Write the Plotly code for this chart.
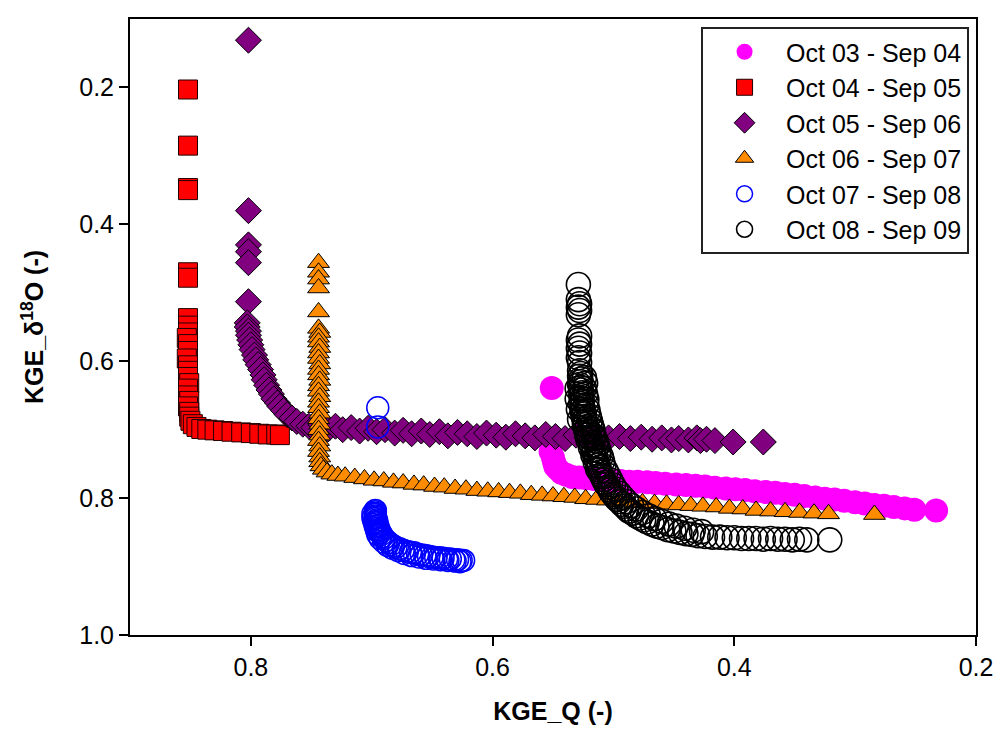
import plotly.graph_objects as go

# KGE_Q (x) and KGE_delta18O (y) pairs for each hydrological year
oct03_sep04 = [
    (0.551, 0.639), (0.552, 0.732), (0.550, 0.741), (0.549, 0.748), (0.548, 0.754),
    (0.546, 0.758), (0.543, 0.763), (0.539, 0.766), (0.534, 0.769), (0.528, 0.770),
    (0.522, 0.771), (0.516, 0.772), (0.509, 0.773), (0.502, 0.774), (0.494, 0.775),
    (0.487, 0.776), (0.480, 0.776), (0.472, 0.777), (0.465, 0.778), (0.457, 0.779),
    (0.448, 0.780), (0.440, 0.781), (0.432, 0.782), (0.424, 0.783), (0.416, 0.785),
    (0.407, 0.786), (0.399, 0.787), (0.391, 0.788), (0.383, 0.790), (0.374, 0.791),
    (0.366, 0.792), (0.358, 0.794), (0.350, 0.795), (0.342, 0.797), (0.333, 0.799),
    (0.325, 0.801), (0.317, 0.802), (0.309, 0.804), (0.300, 0.806), (0.292, 0.808),
    (0.284, 0.810), (0.276, 0.811), (0.268, 0.813), (0.259, 0.815), (0.251, 0.817),
    (0.233, 0.818),
]

oct04_sep05 = [
    (0.852, 0.203), (0.852, 0.285), (0.852, 0.347), (0.852, 0.350), (0.852, 0.470),
    (0.852, 0.478), (0.852, 0.537), (0.852, 0.548), (0.852, 0.558), (0.853, 0.566),
    (0.852, 0.575), (0.852, 0.585), (0.853, 0.596), (0.852, 0.606), (0.852, 0.614),
    (0.852, 0.623), (0.851, 0.632), (0.852, 0.640), (0.852, 0.650), (0.851, 0.658),
    (0.852, 0.666), (0.851, 0.674), (0.851, 0.681), (0.850, 0.687), (0.848, 0.692),
    (0.845, 0.696), (0.841, 0.699), (0.836, 0.700), (0.830, 0.701), (0.823, 0.702),
    (0.816, 0.703), (0.808, 0.704), (0.800, 0.705), (0.793, 0.706), (0.786, 0.707),
    (0.779, 0.707), (0.776, 0.708),
]

oct05_sep06 = [
    (0.802, 0.131), (0.802, 0.380), (0.802, 0.430), (0.802, 0.440), (0.802, 0.456),
    (0.802, 0.513),
    (0.803, 0.544), (0.803, 0.550), (0.802, 0.556), (0.802, 0.562), (0.801, 0.569),
    (0.800, 0.576), (0.799, 0.583), (0.797, 0.591), (0.796, 0.598), (0.794, 0.605),
    (0.792, 0.612), (0.790, 0.620), (0.789, 0.627), (0.787, 0.635), (0.785, 0.642),
    (0.783, 0.648), (0.781, 0.655), (0.778, 0.661), (0.776, 0.666), (0.773, 0.672),
    (0.770, 0.678), (0.766, 0.683), (0.762, 0.688), (0.757, 0.692), (0.752, 0.695),
    (0.748, 0.697), (0.742, 0.693), (0.736, 0.699), (0.730, 0.695), (0.724, 0.700),
    (0.717, 0.697), (0.710, 0.702), (0.703, 0.698), (0.696, 0.703), (0.689, 0.700),
    (0.681, 0.705), (0.674, 0.701), (0.667, 0.706), (0.659, 0.702), (0.652, 0.707),
    (0.644, 0.703), (0.637, 0.709), (0.629, 0.704), (0.621, 0.706), (0.613, 0.710),
    (0.605, 0.705), (0.597, 0.708), (0.589, 0.711), (0.581, 0.706), (0.573, 0.709),
    (0.565, 0.712), (0.556, 0.707), (0.548, 0.710), (0.540, 0.713), (0.531, 0.708),
    (0.522, 0.711), (0.513, 0.709), (0.504, 0.712), (0.495, 0.710), (0.486, 0.713),
    (0.477, 0.711), (0.468, 0.714), (0.460, 0.712), (0.452, 0.715), (0.446, 0.713),
    (0.438, 0.715), (0.431, 0.712), (0.428, 0.716), (0.423, 0.714), (0.416, 0.716),
    (0.401, 0.718), (0.376, 0.718),
]

oct06_sep07 = [
    (0.744, 0.456), (0.744, 0.470), (0.744, 0.480), (0.744, 0.493), (0.744, 0.528),
    (0.744, 0.552), (0.743, 0.558), (0.744, 0.565), (0.744, 0.572), (0.743, 0.580),
    (0.744, 0.588), (0.744, 0.596), (0.743, 0.604), (0.744, 0.612), (0.744, 0.620),
    (0.743, 0.628), (0.744, 0.636), (0.744, 0.644), (0.743, 0.652), (0.744, 0.660),
    (0.744, 0.668), (0.743, 0.676), (0.744, 0.684), (0.743, 0.692), (0.744, 0.700),
    (0.743, 0.708), (0.744, 0.716), (0.743, 0.724), (0.744, 0.732), (0.743, 0.740),
    (0.743, 0.747), (0.742, 0.753), (0.740, 0.758), (0.737, 0.762), (0.733, 0.765),
    (0.728, 0.767),
    (0.722, 0.768), (0.714, 0.770), (0.706, 0.772), (0.698, 0.774), (0.690, 0.775),
    (0.682, 0.777), (0.674, 0.778), (0.665, 0.780), (0.657, 0.781), (0.648, 0.783),
    (0.640, 0.784), (0.631, 0.786), (0.622, 0.787), (0.613, 0.789), (0.604, 0.790),
    (0.595, 0.791), (0.586, 0.792), (0.577, 0.793), (0.568, 0.795), (0.559, 0.796),
    (0.550, 0.797), (0.541, 0.798), (0.532, 0.799), (0.523, 0.801), (0.514, 0.802),
    (0.505, 0.803), (0.496, 0.805), (0.486, 0.806), (0.476, 0.807), (0.466, 0.808),
    (0.456, 0.809), (0.446, 0.810), (0.436, 0.811), (0.426, 0.812), (0.415, 0.813),
    (0.404, 0.815), (0.393, 0.816), (0.382, 0.818), (0.370, 0.819), (0.358, 0.820),
    (0.346, 0.821), (0.334, 0.822), (0.322, 0.823), (0.284, 0.824),
]

oct07_sep08 = [
    (0.695, 0.668), (0.695, 0.696),
    (0.697, 0.818), (0.697, 0.820), (0.697, 0.822), (0.697, 0.824), (0.697, 0.826),
    (0.697, 0.828), (0.697, 0.830), (0.696, 0.832), (0.696, 0.834), (0.696, 0.836),
    (0.696, 0.838), (0.695, 0.840), (0.695, 0.842), (0.695, 0.844), (0.694, 0.846),
    (0.694, 0.848), (0.693, 0.850), (0.692, 0.853), (0.691, 0.856), (0.690, 0.859),
    (0.688, 0.862), (0.686, 0.865), (0.684, 0.868), (0.682, 0.870), (0.680, 0.872),
    (0.677, 0.874), (0.674, 0.876), (0.671, 0.878), (0.668, 0.879), (0.665, 0.880),
    (0.662, 0.882), (0.659, 0.883), (0.656, 0.884), (0.653, 0.885), (0.650, 0.886),
    (0.647, 0.887), (0.644, 0.887), (0.641, 0.888), (0.638, 0.889), (0.635, 0.889),
    (0.632, 0.890), (0.629, 0.890), (0.626, 0.891), (0.624, 0.891),
    (0.699, 0.823), (0.699, 0.829), (0.698, 0.835), (0.697, 0.841), (0.696, 0.847),
    (0.695, 0.853), (0.693, 0.859), (0.690, 0.864), (0.687, 0.869), (0.683, 0.873),
    (0.678, 0.877), (0.673, 0.881), (0.667, 0.884), (0.661, 0.886), (0.655, 0.888),
    (0.649, 0.889), (0.643, 0.890), (0.637, 0.891), (0.631, 0.892), (0.627, 0.893),
]

oct08_sep09 = [
    (0.529, 0.488), (0.529, 0.510), (0.528, 0.516), (0.529, 0.521), (0.528, 0.526),
    (0.529, 0.532), (0.528, 0.563), (0.529, 0.569), (0.528, 0.575), (0.529, 0.581),
    (0.528, 0.588), (0.529, 0.595), (0.528, 0.602),
    (0.528, 0.614), (0.527, 0.618), (0.528, 0.622), (0.527, 0.626), (0.527, 0.630),
    (0.528, 0.634), (0.527, 0.638), (0.527, 0.642), (0.526, 0.646), (0.527, 0.650),
    (0.526, 0.654), (0.526, 0.658), (0.527, 0.662), (0.526, 0.666), (0.525, 0.670),
    (0.526, 0.673), (0.524, 0.677), (0.525, 0.681), (0.524, 0.685), (0.523, 0.689),
    (0.524, 0.692), (0.522, 0.696), (0.523, 0.700), (0.521, 0.704), (0.522, 0.708),
    (0.520, 0.711), (0.521, 0.715), (0.519, 0.719), (0.518, 0.723), (0.519, 0.726),
    (0.517, 0.730), (0.516, 0.734), (0.517, 0.737), (0.515, 0.741), (0.514, 0.745),
    (0.515, 0.748), (0.513, 0.752), (0.512, 0.755), (0.513, 0.758), (0.511, 0.762),
    (0.510, 0.766), (0.509, 0.769), (0.508, 0.773), (0.507, 0.777), (0.506, 0.780),
    (0.504, 0.784), (0.503, 0.788), (0.502, 0.791), (0.500, 0.795), (0.499, 0.798),
    (0.497, 0.802), (0.495, 0.805), (0.493, 0.809), (0.491, 0.812), (0.489, 0.816),
    (0.487, 0.819), (0.484, 0.822), (0.481, 0.826), (0.478, 0.829), (0.475, 0.832),
    (0.472, 0.835), (0.468, 0.838), (0.464, 0.841), (0.460, 0.843), (0.455, 0.846),
    (0.450, 0.848), (0.445, 0.850), (0.440, 0.852), (0.435, 0.853), (0.430, 0.855),
    (0.424, 0.856), (0.418, 0.857), (0.412, 0.857), (0.406, 0.858), (0.400, 0.858),
    (0.394, 0.859), (0.388, 0.859), (0.382, 0.859), (0.376, 0.860), (0.370, 0.859),
    (0.364, 0.860), (0.358, 0.860), (0.352, 0.861), (0.346, 0.860), (0.340, 0.861),
    (0.321, 0.861),
    (0.517, 0.700), (0.516, 0.712), (0.514, 0.725), (0.512, 0.738),
    (0.524, 0.624), (0.523, 0.632), (0.524, 0.640), (0.523, 0.648), (0.522, 0.656),
    (0.522, 0.664), (0.521, 0.672), (0.520, 0.680), (0.519, 0.687), (0.518, 0.694),
    (0.517, 0.702), (0.516, 0.709), (0.514, 0.717), (0.513, 0.724), (0.512, 0.731),
    (0.510, 0.739), (0.509, 0.746), (0.508, 0.753), (0.506, 0.760), (0.504, 0.767),
    (0.502, 0.774), (0.500, 0.781), (0.498, 0.787), (0.495, 0.793), (0.492, 0.799),
    (0.489, 0.805), (0.485, 0.811), (0.481, 0.816), (0.476, 0.821), (0.471, 0.826),
    (0.466, 0.830), (0.460, 0.834), (0.454, 0.838), (0.448, 0.841), (0.441, 0.844),
    (0.434, 0.847), (0.427, 0.849),
    (0.530, 0.640), (0.530, 0.655), (0.529, 0.670), (0.528, 0.685),
]

x_ticks = [0.8, 0.6, 0.4, 0.2]
x_tick_labels = ["0.8", "0.6", "0.4", "0.2"]
y_ticks = [0.2, 0.4, 0.6, 0.8, 1.0]
y_tick_labels = ["0.2", "0.4", "0.6", "0.8", "1.0"]

FONT = "Arial, Liberation Sans, sans-serif"

series = [
    ("Oct 03 - Sep 04", oct03_sep04,
     dict(symbol="circle", size=24, color="#FF00FF", line=dict(width=0))),
    ("Oct 04 - Sep 05", oct04_sep05,
     dict(symbol="square", size=19, color="#FF0000", line=dict(color="#200000", width=1))),
    ("Oct 05 - Sep 06", oct05_sep06,
     dict(symbol="diamond", size=20, color="#800080", line=dict(color="#000000", width=1))),
    ("Oct 06 - Sep 07", oct06_sep07,
     dict(symbol="triangle-up", size=19, color="#FF8C00", line=dict(color="#000000", width=1))),
    ("Oct 07 - Sep 08", oct07_sep08,
     dict(symbol="circle-open", size=22, color="#0000FF", line=dict(color="#0000FF", width=1.5))),
    ("Oct 08 - Sep 09", oct08_sep09,
     dict(symbol="circle-open", size=24, color="#000000", line=dict(color="#000000", width=1.6))),
]

fig = go.Figure()
for name, pts, marker in series:
    xs = [p[0] for p in pts]
    ys = [p[1] for p in pts]
    fig.add_trace(go.Scatter(x=xs, y=ys, mode="markers", name=name, marker=marker))

axis_common = dict(
    showgrid=False, zeroline=False, showline=True, linecolor="black", linewidth=2,
    mirror=True, ticks="outside", ticklen=9, tickwidth=1.5, tickcolor="black",
    tickfont=dict(family=FONT, size=25, color="black"),
)

fig.update_layout(
    width=1005, height=742,
    margin=dict(l=130, r=22, t=19, b=107),
    paper_bgcolor="white", plot_bgcolor="white",
    font=dict(family=FONT, color="black"),
    xaxis=dict(
        range=[0.9, 0.2], tickmode="array", tickvals=x_ticks, ticktext=x_tick_labels,
        title=dict(text="<b>KGE_Q (-)</b>", font=dict(family=FONT, size=25), standoff=22),
        **axis_common,
    ),
    yaxis=dict(
        range=[1.0, 0.1], tickmode="array", tickvals=y_ticks, ticktext=y_tick_labels,
        title=dict(text="<b>KGE_δ<sup>18</sup>O (-)</b>", font=dict(family=FONT, size=25),
                   standoff=28),
        **axis_common,
    ),
    legend=dict(
        x=0.675, y=0.987, xanchor="left", yanchor="top",
        bgcolor="white", bordercolor="#222222", borderwidth=2,
        font=dict(family=FONT, size=25, color="black"),
        itemwidth=73, tracegroupgap=0,
    ),
    showlegend=True,
)

fig.write_html("out.html", config={"displayModeBar": False})
